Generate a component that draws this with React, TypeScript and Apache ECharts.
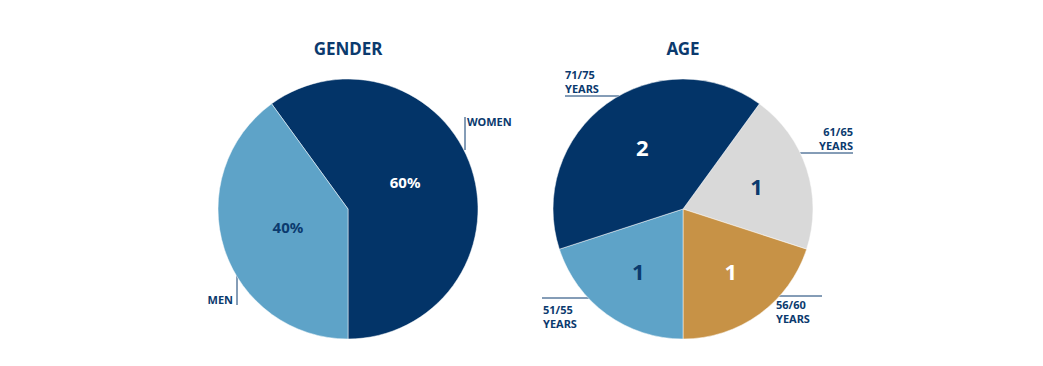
import React, { useEffect, useRef } from "react";
import * as echarts from "echarts";

const genderNames = ["WOMEN", "MEN"];
const genderValues = [60, 40];
const genderInnerLabels = ["60%", "40%"];

const ageNames = ["61/65\nYEARS", "56/60\nYEARS", "51/55\nYEARS", "71/75\nYEARS"];
const ageValues = [1, 1, 1, 2];

const NAVY = "#033468";
const LIGHT = "#5EA3C8";
const GRAY = "#D9D9D9";
const GOLD = "#C79246";
const TEXT = "#0B3A6E";
const FONT = "'Noto Sans', sans-serif";

const genderColors = [NAVY, LIGHT];
const genderInnerText = ["#ffffff", TEXT];
const ageColors = [GRAY, GOLD, LIGHT, NAVY];
const ageInnerText = [TEXT, "#ffffff", TEXT, "#ffffff"];

const G_CENTER = [348, 209];
const A_CENTER = [683, 209];
const R = 130;

// small per-slice nudges of the inside labels
const genderNudge = [[-5, -7], [2, -2]];
const ageNudge = [[-2, 2], [1, -2], [2, -2], [6, 2]];

// outer label placements (anchor x, y, align, line points)
const genderOuter = [
  { x: 467, y: 121, align: "left", vAlign: "middle", line: [[465, 150], [465, 133], [465, 117]] },
  { x: 233, y: 299, align: "right", vAlign: "middle", line: [[237, 258], [237, 282], [237, 305]] },
];
const ageOuter = [
  { x: 853, y: 124, align: "right", vAlign: "top", line: [[793, 153], [823, 153], [853, 153]] },
  { x: 776, y: 297, align: "left", vAlign: "top", line: [[762, 296], [792, 296], [822, 296]] },
  { x: 543, y: 302, align: "left", vAlign: "top", line: [[602, 298], [572, 298], [542, 298]] },
  { x: 565, y: 67, align: "left", vAlign: "top", line: [[619, 96], [592, 96], [565, 96]] },
];

function innerLayout(center: number[], factor: number, nudge: number[][]) {
  return (params: any) => {
    const r = params.labelRect;
    const cx = r.x + r.width / 2;
    const cy = r.y + r.height / 2;
    const n = nudge[params.dataIndex] || [0, 0];
    return {
      x: center[0] + (cx - center[0]) * factor + n[0],
      y: center[1] + (cy - center[1]) * factor + n[1],
      align: "center",
      verticalAlign: "middle",
    };
  };
}

function outerLayout(spec: any[]) {
  return (params: any) => {
    const s = spec[params.dataIndex];
    return {
      x: s.x,
      y: s.y,
      align: s.align,
      verticalAlign: s.vAlign,
      labelLinePoints: s.line,
    };
  };
}

export default function App() {
  const ref = useRef<HTMLDivElement>(null);
  useEffect(() => {
    if (!ref.current) return;
    const chart = echarts.init(ref.current, undefined, { renderer: "svg" });
    const base = {
      type: "pie",
      radius: R,
      clockwise: true,
      silent: true,
      animation: false,
      emphasis: { disabled: true },
    };
    chart.setOption({
      animation: false,
      backgroundColor: "#ffffff",
      title: [
        {
          text: "GENDER",
          left: G_CENTER[0] - 5,
          top: 35,
          textAlign: "center",
          textStyle: { fontFamily: FONT, fontSize: 17, fontWeight: "bold", color: TEXT },
        },
        {
          text: "AGE",
          left: A_CENTER[0] - 5,
          top: 35,
          textAlign: "center",
          textStyle: { fontFamily: FONT, fontSize: 17, fontWeight: "bold", color: TEXT },
        },
      ],
      series: [
        {
          ...base,
          center: G_CENTER,
          startAngle: 126,
          itemStyle: { borderColor: "#ffffff", borderWidth: 0.5 },
          label: { show: true, position: "inside", fontFamily: FONT, fontWeight: "bold", fontSize: 15 },
          labelLine: { show: false },
          labelLayout: innerLayout(G_CENTER, 0.96, genderNudge),
          data: genderValues.map((v, i) => ({
            value: v,
            name: genderNames[i],
            itemStyle: { color: genderColors[i] },
            label: { formatter: genderInnerLabels[i], color: genderInnerText[i] },
          })),
        },
        {
          ...base,
          center: G_CENTER,
          startAngle: 126,
          itemStyle: { color: "rgba(0,0,0,0)" },
          label: {
            show: true,
            position: "outside",
            formatter: "{b}",
            fontFamily: FONT,
            fontWeight: "bold",
            fontSize: 11,
            color: TEXT,
          },
          labelLine: { show: true, lineStyle: { color: TEXT, width: 1 } },
          labelLayout: outerLayout(genderOuter),
          data: genderValues.map((v, i) => ({ value: v, name: genderNames[i] })),
        },
        {
          ...base,
          center: A_CENTER,
          startAngle: 54,
          itemStyle: { borderColor: "#ffffff", borderWidth: 0.5 },
          label: { show: true, position: "inside", fontFamily: FONT, fontWeight: "bold", fontSize: 22, formatter: "{c}" },
          labelLine: { show: false },
          labelLayout: innerLayout(A_CENTER, 1.17, ageNudge),
          data: ageValues.map((v, i) => ({
            value: v,
            name: ageNames[i],
            itemStyle: { color: ageColors[i] },
            label: { color: ageInnerText[i] },
          })),
        },
        {
          ...base,
          center: A_CENTER,
          startAngle: 54,
          itemStyle: { color: "rgba(0,0,0,0)" },
          label: {
            show: true,
            position: "outside",
            formatter: "{b}",
            fontFamily: FONT,
            fontWeight: "bold",
            fontSize: 11,
            lineHeight: 14,
            color: TEXT,
          },
          labelLine: { show: true, lineStyle: { color: TEXT, width: 1 } },
          labelLayout: outerLayout(ageOuter),
          data: ageValues.map((v, i) => ({ value: v, name: ageNames[i] })),
        },
      ],
    });
    return () => chart.dispose();
  }, []);
  return (
    <div
      ref={ref}
      style={{ position: "fixed", left: 0, top: 0, width: 1043, height: 366 }}
    />
  );
}
